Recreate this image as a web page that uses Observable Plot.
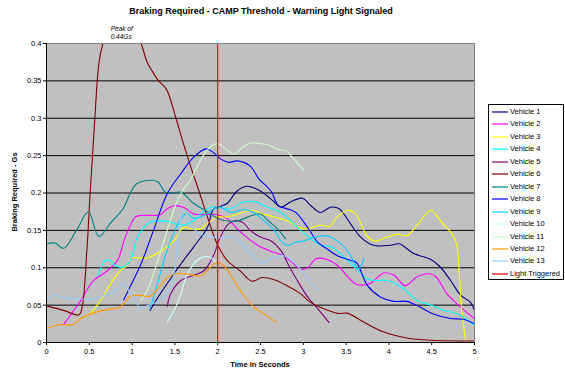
<!DOCTYPE html>
<html>
<head>
<meta charset="utf-8">
<script src="https://cdn.jsdelivr.net/npm/d3@7"></script>
<script src="https://cdn.jsdelivr.net/npm/@observablehq/plot@0.6"></script>
<style>
  html, body { margin: 0; padding: 0; background: #fff; }
  #wrap { position: relative; width: 565px; height: 374px; font-family: "Liberation Sans", Arial, sans-serif; overflow: hidden; }
  #title { position: absolute; left: 0; width: 522px; top: 6px; text-align: center; font-weight: bold; font-size: 9px; color: #000; }
  #xtitle { position: absolute; left: 46px; width: 428px; top: 360px; text-align: center; font-weight: bold; font-size: 7.5px; }
  #ytitle { position: absolute; left: 14px; top: 192px; transform: translate(-50%, -50%) rotate(-90deg); white-space: nowrap; font-weight: bold; font-size: 7.5px; }
  #legend { position: absolute; left: 488px; top: 104px; width: 76px; height: 176px; border: 1px solid #000; background: #fff; box-sizing: border-box; }
  .li { position: absolute; left: 3px; height: 10px; font-size: 7.5px; line-height: 10px; white-space: nowrap; }
  .li svg { position: absolute; left: 0; top: 0; }
  .li span { position: absolute; left: 18px; top: 0; }
</style>
</head>
<body>
<div id="wrap">
  <div id="title">Braking Required - CAMP Threshold - Warning Light Signaled</div>
  <div id="chart"></div>
  <div id="xtitle">Time in Seconds</div>
  <div id="ytitle">Braking Required - Gs</div>
  <div id="legend"></div>
</div>
<script>
const xTicks = [0, 0.5, 1, 1.5, 2, 2.5, 3, 3.5, 4, 4.5, 5];
const yTicks = [0, 0.05, 0.1, 0.15, 0.2, 0.25, 0.3, 0.35, 0.4];

const seriesNames = ["Vehicle 1","Vehicle 2","Vehicle 3","Vehicle 4","Vehicle 5","Vehicle 6","Vehicle 7","Vehicle 8","Vehicle 9","Vehicle 10","Vehicle 11","Vehicle 12","Vehicle 13","Light Triggered"];
const seriesColors = ["#000080","#ff00ff","#ffff00","#00ffff","#800080","#800000","#008080","#0000ff","#00ccff","#ccffff","#ccffcc","#ff9900","#99ccff","#e00000"];

const vehicle1 = [[1.21,0.043],[1.3,0.06],[1.41,0.079],[1.57,0.105],[1.72,0.128],[1.88,0.154],[1.95,0.178],[2.05,0.183],[2.11,0.186],[2.23,0.203],[2.34,0.209],[2.46,0.205],[2.58,0.196],[2.66,0.188],[2.74,0.181],[2.85,0.188],[2.99,0.193],[3.09,0.183],[3.2,0.174],[3.32,0.181],[3.42,0.179],[3.55,0.159],[3.67,0.141],[3.82,0.13],[4.02,0.13],[4.12,0.132],[4.29,0.119],[4.49,0.111],[4.6,0.101],[4.72,0.083],[4.84,0.063],[4.95,0.054],[5,0.043]];
const vehicle2 = [[0.2,0.024],[0.3,0.04],[0.4,0.056],[0.55,0.083],[0.71,0.096],[0.83,0.11],[0.92,0.141],[1.04,0.168],[1.1,0.17],[1.33,0.171],[1.41,0.179],[1.49,0.183],[1.6,0.181],[1.72,0.172],[2.0,0.171],[2.12,0.165],[2.23,0.152],[2.38,0.137],[2.5,0.128],[2.62,0.122],[2.77,0.116],[2.89,0.105],[2.97,0.098],[3.05,0.1],[3.15,0.112],[3.25,0.112],[3.4,0.103],[3.52,0.088],[3.62,0.078],[3.78,0.079],[3.94,0.093],[4.06,0.09],[4.19,0.076],[4.33,0.088],[4.47,0.092],[4.55,0.088],[4.68,0.065],[4.84,0.047],[5,0.032]];
const vehicle3 = [[0.51,0.038],[0.63,0.056],[0.75,0.079],[0.86,0.096],[0.94,0.103],[1.0,0.113],[1.18,0.113],[1.37,0.125],[1.49,0.136],[1.6,0.154],[1.68,0.152],[1.8,0.152],[1.88,0.159],[1.99,0.168],[2.1,0.168],[2.27,0.173],[2.4,0.177],[2.5,0.173],[2.66,0.168],[2.81,0.163],[2.97,0.153],[3.05,0.152],[3.2,0.157],[3.3,0.155],[3.4,0.168],[3.52,0.177],[3.6,0.173],[3.67,0.16],[3.73,0.145],[3.82,0.136],[3.98,0.141],[4.1,0.145],[4.21,0.143],[4.33,0.157],[4.49,0.177],[4.57,0.168],[4.63,0.159],[4.72,0.148],[4.79,0.132],[4.82,0.096],[4.85,0.043],[4.9,0]];
const vehicle4 = [[0.6,0.09],[0.69,0.11],[0.74,0.11],[0.8,0.103],[0.9,0.101],[0.98,0.11],[1.06,0.14],[1.14,0.154],[1.21,0.161],[1.41,0.162],[1.57,0.157],[1.72,0.163],[1.8,0.172],[1.92,0.181],[2.03,0.181],[2.15,0.179],[2.3,0.188],[2.45,0.188],[2.58,0.181],[2.74,0.174],[2.85,0.163],[2.97,0.15],[3.09,0.139],[3.2,0.13],[3.32,0.128],[3.48,0.114],[3.59,0.102],[3.75,0.085],[3.86,0.083],[3.98,0.083],[4.17,0.072],[4.33,0.056],[4.49,0.05],[4.64,0.043],[4.8,0.038],[5,0.023]];
const vehicle5 = [[1.41,0.048],[1.45,0.065],[1.57,0.083],[1.72,0.09],[1.84,0.096],[1.95,0.116],[2.03,0.141],[2.13,0.159],[2.22,0.163],[2.3,0.16],[2.38,0.15],[2.5,0.141],[2.62,0.136],[2.74,0.123],[2.83,0.103],[2.93,0.083],[3.05,0.061],[3.17,0.045],[3.3,0.027]];
const vehicle6 = [[0,0.049],[0.2,0.043],[0.38,0.037],[0.42,0.05],[0.47,0.12],[0.51,0.2],[0.565,0.3],[0.6,0.36],[0.63,0.386],[0.66,0.4],[0.72,0.43],[0.8,0.44],[0.9,0.44],[1.0,0.43],[1.106,0.4],[1.176,0.375],[1.24,0.362],[1.31,0.35],[1.4,0.339],[1.51,0.301],[1.6,0.266],[1.7,0.23],[1.78,0.203],[1.88,0.168],[2.0,0.13],[2.11,0.11],[2.27,0.095],[2.4,0.082],[2.52,0.087],[2.66,0.084],[2.81,0.076],[2.97,0.065],[3.08,0.054],[3.24,0.045],[3.4,0.039],[3.52,0.039],[3.71,0.027],[3.94,0.014],[4.21,0.006],[4.5,0.003],[5,0.002]];
const vehicle7 = [[0,0.132],[0.1,0.133],[0.2,0.126],[0.35,0.15],[0.49,0.175],[0.61,0.142],[0.75,0.16],[0.9,0.18],[0.98,0.2],[1.05,0.212],[1.2,0.217],[1.3,0.215],[1.4,0.2],[1.57,0.201],[1.72,0.186],[1.88,0.175],[2.0,0.166],[2.2,0.162],[2.4,0.17],[2.5,0.172],[2.6,0.162],[2.7,0.152],[2.79,0.139]];
const vehicle8 = [[0.9,0.057],[1.0,0.08],[1.1,0.104],[1.25,0.15],[1.41,0.199],[1.57,0.226],[1.72,0.248],[1.86,0.259],[1.94,0.255],[2.03,0.246],[2.13,0.241],[2.23,0.243],[2.38,0.236],[2.48,0.219],[2.62,0.203],[2.71,0.183],[2.81,0.179],[2.91,0.174],[3.05,0.154],[3.17,0.134],[3.28,0.125],[3.4,0.116],[3.55,0.11],[3.62,0.107],[3.75,0.076],[3.9,0.061],[4.06,0.055],[4.21,0.055],[4.37,0.047],[4.52,0.038],[4.72,0.032],[4.87,0.031],[5,0.025]];
const vehicle9 = [[1.21,0.045],[1.3,0.08],[1.4,0.12],[1.5,0.15],[1.57,0.165],[1.64,0.173],[1.72,0.166],[1.84,0.17],[1.96,0.179],[2.05,0.18],[2.15,0.174],[2.3,0.178],[2.42,0.174],[2.54,0.163],[2.66,0.15],[2.74,0.136],[2.81,0.13],[2.91,0.134],[3.01,0.136],[3.13,0.141],[3.24,0.143],[3.32,0.141],[3.44,0.132],[3.54,0.119],[3.6,0.105],[3.65,0.099],[3.71,0.112]];
const vehicle10 = [[1.41,0.027],[1.5,0.045],[1.57,0.065],[1.64,0.09],[1.76,0.11],[1.86,0.115],[1.94,0.112],[1.98,0.106]];
const vehicle11 = [[1.1,0.056],[1.18,0.07],[1.25,0.092],[1.33,0.12],[1.41,0.15],[1.53,0.19],[1.6,0.205],[1.68,0.217],[1.76,0.235],[1.86,0.255],[1.94,0.264],[2.0,0.266],[2.1,0.258],[2.19,0.252],[2.28,0.26],[2.38,0.267],[2.5,0.266],[2.6,0.264],[2.69,0.259],[2.81,0.256],[2.87,0.248],[3.01,0.23]];
const vehicle12 = [[0,0.019],[0.16,0.024],[0.3,0.024],[0.43,0.034],[0.59,0.041],[0.76,0.045],[0.84,0.046],[0.92,0.054],[0.98,0.062],[1.1,0.063],[1.21,0.062],[1.33,0.076],[1.41,0.087],[1.53,0.092],[1.68,0.091],[1.8,0.089],[1.92,0.101],[1.99,0.107],[2.07,0.103],[2.19,0.083],[2.27,0.069],[2.4,0.05],[2.54,0.038],[2.69,0.027]];
const vehicle13 = [[0,0.056],[0.08,0.063],[0.2,0.06],[0.31,0.059],[0.55,0.058],[0.67,0.063],[0.78,0.067],[0.88,0.078],[0.94,0.073],[1.02,0.058],[1.1,0.047],[1.2,0.05],[1.3,0.055],[1.4,0.065],[1.47,0.08],[1.53,0.13],[1.58,0.17],[1.62,0.176],[1.68,0.158],[1.8,0.145],[1.95,0.141],[2.05,0.14],[2.19,0.141],[2.3,0.13],[2.4,0.118],[2.5,0.107],[2.66,0.114],[2.77,0.116],[2.89,0.107],[3.01,0.092],[3.09,0.078],[3.2,0.07]];
const lightTriggered = [[2,0],[2,0.4]];

const peakNote = [{x: 0.75, y: 0.4, line1: "Peak of", line2: "0.44Gs"}];

const allSeries = [vehicle1, vehicle2, vehicle3, vehicle4, vehicle5, vehicle6, vehicle7, vehicle8, vehicle9, vehicle10, vehicle11, vehicle12, vehicle13, lightTriggered];

const rows = [];
allSeries.forEach((s, i) => s.forEach(([t, g]) => rows.push({series: seriesNames[i], t, g})));

const fmt = d => String(+d.toFixed(2));

const chart = Plot.plot({
  width: 565,
  height: 374,
  marginLeft: 46,
  marginRight: 91,
  marginTop: 43,
  marginBottom: 32,
  style: {fontFamily: "'Liberation Sans', Arial, sans-serif", fontSize: "7.5px", background: "transparent", color: "#000"},
  x: {domain: [0, 5], label: null},
  y: {domain: [0, 0.4], label: null},
  color: {domain: seriesNames, range: seriesColors},
  marks: [
    Plot.frame({fill: "#c0c0c0", stroke: null}),
    Plot.gridY(yTicks, {stroke: "#000", strokeOpacity: 1, strokeWidth: 1}),
    Plot.line(rows, {x: "t", y: "g", z: "series", stroke: "series", strokeWidth: 1.1, clip: true, curve: "catmull-rom"}),
    Plot.frame({stroke: "#808080"}),
    Plot.ruleX([0], {stroke: "#000"}),
    Plot.ruleY([0], {stroke: "#000"}),
    Plot.axisX({ticks: xTicks, tickFormat: fmt, tickSize: 3, tickPadding: 3, label: null}),
    Plot.axisY({ticks: yTicks, tickFormat: fmt, tickSize: 3, tickPadding: 2, label: null}),
    Plot.text(peakNote, {x: "x", y: "y", text: "line1", dy: -15, textAnchor: "start", fontStyle: "italic", fontSize: 6.5}),
    Plot.text(peakNote, {x: "x", y: "y", text: "line2", dy: -7, textAnchor: "start", fontStyle: "italic", fontSize: 6.5})
  ]
});
document.getElementById("chart").appendChild(chart);

const legend = document.getElementById("legend");
seriesNames.forEach((name, i) => {
  const div = document.createElement("div");
  div.className = "li";
  div.style.top = (2 + i * 12.45) + "px";
  div.innerHTML = `<svg width="16" height="10"><line x1="0" x2="16" y1="5" y2="5" stroke="${seriesColors[i]}" stroke-width="1.2"/></svg><span>${name}</span>`;
  legend.appendChild(div);
});
</script>
</body>
</html>
